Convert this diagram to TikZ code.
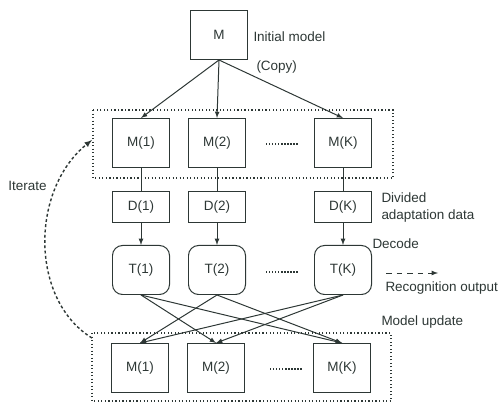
\documentclass[tikz,border=0pt]{standalone}
\usepackage{fontspec}
\setmainfont{Liberation Sans}
\usetikzlibrary{calc}
\usetikzlibrary{positioning}
\definecolor{ink}{RGB}{45,55,53}
\tikzset{
  model/.style={draw=ink,minimum width=1.71cm,minimum height=1.47cm,inner sep=0pt},
  data/.style={draw=ink,minimum width=1.71cm,minimum height=0.9cm,inner sep=0pt},
  trans/.style={draw=ink,rounded corners=0.3cm,minimum width=1.71cm,minimum height=1.47cm,inner sep=0pt},
  note/.style={anchor=west,inner sep=0pt,text=ink},
  group/.style={draw=ink,dotted,line width=1pt},
  etc/.style={draw=ink,line width=1.2pt,dash pattern=on 1.1pt off 1.5pt},
}

\begin{document}
\begin{tikzpicture}[x=0.03cm,y=-0.03cm,>=latex,line width=0.85pt,font=\fontsize{11.5}{14.5}\selectfont,text=ink]
\useasboundingbox (0,0) rectangle (500,403);
\node[model] (M) at (219,35) {M};
\node[note] (init) at (253,37) {Initial model};
\node[note] (copy) at (256,67) {(Copy)};
% groups of models
\draw[group] (93,110) rectangle (393,178);
\draw[group] (92,333) rectangle (391,401);
\foreach \i/\x/\lab in {1/141/1,2/217/2,3/343/K}{
  \node[model] (A\i) at (\x,143) {M(\lab)};
  \node[data] (D\i) at (\x,207) {D(\lab)};
  \node[trans] (T\i) at (\x,270) {T(\lab)};
  \node[model] (B\i) at (\x-1,368) {M(\lab)};
  \draw[ink,->] (M.south) -- (A\i.north);
  \draw[ink] (A\i) -- (D\i);
  \draw[ink,->] (D\i) -- (T\i);
}
\foreach \s/\t in {1/2,1/3,2/1,2/3,3/1,3/2}{
  \draw[ink,->] (T\s.south) -- (B\t.north);
}
\draw[etc] (266,144) -- (299,144);
\draw[etc] (266,272) -- (298,272);
\draw[etc] (270,369) -- (303,369);
\node[note,align=left] (div) at (381,208) {Divided\\adaptation data};
\node[note] (dec) at (372,244) {Decode};
\coordinate (out0) at (386,273);
\coordinate (out1) at (438,273);
\draw[ink,->,dash pattern=on 5pt off 4pt] (out0) -- (out1);
\node[note] (rec) at (385,288) {Recognition output};
\node[note] (upd) at (381,322) {Model update};
% iterate loop
\coordinate (it0) at (92,338);
\coordinate (it1) at (92,140);
\draw[ink,->,line width=1.2pt,dash pattern=on 2.5pt off 2pt] (it0) .. controls (30,300) and (30,190) .. (it1);
\node[note] (iter) at (8,186) {Iterate};
\end{tikzpicture}
\end{document}
